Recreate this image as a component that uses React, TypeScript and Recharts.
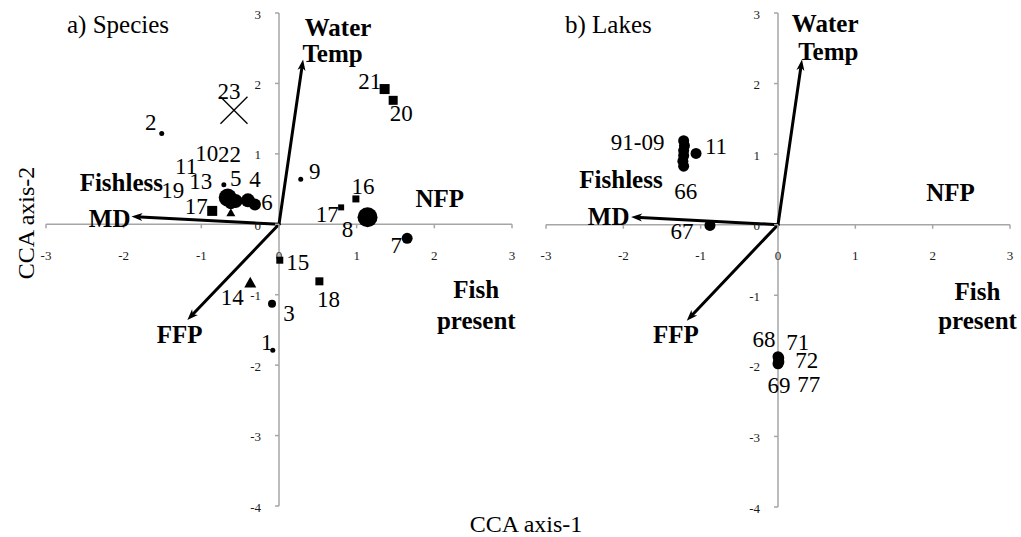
import React from 'react';
import { ScatterChart, Scatter, XAxis, YAxis, ReferenceLine } from 'recharts';

// Axis ticks shared by both ordination panels
const xTicks = [-3, -2, -1, 0, 1, 2, 3];
const yTicks = [-4, -3, -2, -1, 0, 1, 2, 3];

// a) species scores on CCA axis-1 / axis-2
const speciesLabels = ['1', '2', '3', '4', '5', '6', '7', '8', '9', '10', '11', '13', '14', '15', '16', '17', '17', '18', '19', '20', '21', '22', '23'];
const speciesAxis1 = [-0.08, -1.51, -0.09, -0.40, -0.71, -0.31, 1.65, 1.14, 0.28, -0.66, -0.72, -0.62, -0.37, 0.01, 0.99, -0.86, 0.80, 0.52, -0.62, 1.47, 1.36, -0.56, -0.58];
const speciesAxis2 = [-1.79, 1.29, -1.13, 0.34, 0.56, 0.28, -0.20, 0.10, 0.64, 0.38, 0.40, 0.30, -0.82, -0.51, 0.36, 0.19, 0.24, -0.81, 0.17, 1.76, 1.92, 0.33, 1.62];

// b) lake-year scores
const lakeLabels = ['91-09', '', '', '', '', '66', '11', '67', '68', '71', '72', '69', '77'];
const lakeAxis1 = [-1.22, -1.21, -1.22, -1.22, -1.23, -1.22, -1.06, -0.88, 0.0, 0.01, 0.01, 0.0, 0.01];
const lakeAxis2 = [1.19, 1.12, 1.05, 0.98, 0.90, 0.83, 1.01, -0.01, -1.87, -1.89, -1.93, -1.97, -1.95];

// Environmental vectors (biplot arrows)
const vectorNames = ['Water Temp', 'MD', 'FFP'];
const vectorAxis1 = [0.31, -1.90, -1.18];
const vectorAxis2 = [2.34, 0.11, -1.36];

// Environmental variable labels and centroids (text centres)
const envNames = ['Water', 'Temp', 'Fishless', 'MD', 'NFP', 'FFP', 'Fish', 'present'];
const envAxis1A = [0.76, 0.69, -2.03, -2.18, 2.07, -1.28, 2.54, 2.54];
const envAxis2A = [2.80, 2.42, 0.60, 0.08, 0.36, -1.56, -0.92, -1.37];
const envAxis1B = [0.61, 0.65, -2.03, -2.19, 2.23, -1.32, 2.58, 2.58];
const envAxis2B = [2.85, 2.46, 0.64, 0.12, 0.46, -1.56, -0.94, -1.36];

// Marker look and label placement for each species
const speciesMarks = [
  { shape: 'dot', size: 2.5, dx: -6, dy: -8 },
  { shape: 'dot', size: 2.5, dx: -11, dy: -11 },
  { shape: 'dot', size: 4, dx: 17, dy: 10 },
  { shape: 'dot', size: 7, dx: 7, dy: -21 },
  { shape: 'dot', size: 2.5, dx: 12, dy: -6 },
  { shape: 'dot', size: 6, dx: 12, dy: -2 },
  { shape: 'dot', size: 5.5, dx: -11, dy: 7 },
  { shape: 'dot', size: 10, dx: -20, dy: 12 },
  { shape: 'dot', size: 2.5, dx: 14, dy: -8 },
  { shape: 'dot', size: 9, dx: -21, dy: -44 },
  { shape: 'x', size: 6, dx: -37, dy: -30 },
  { shape: 'dot', size: 6, dx: -30, dy: -22 },
  { shape: 'triangle', size: 12, dx: -18, dy: 15 },
  { shape: 'square', size: 7, dx: 18, dy: 2 },
  { shape: 'square', size: 7, dx: 7, dy: -12 },
  { shape: 'square', size: 10, dx: -16, dy: -4 },
  { shape: 'square', size: 6, dx: -14, dy: 7 },
  { shape: 'square', size: 8, dx: 9, dy: 18 },
  { shape: 'triangle', size: 9, dx: -58, dy: -22 },
  { shape: 'square', size: 9, dx: 8, dy: 13 },
  { shape: 'square', size: 10, dx: -15, dy: -8 },
  { shape: 'dot', size: 7, dx: -6, dy: -47 },
  { shape: 'x', size: 27, dx: -5, dy: -19 },
];

const lakeMarks = [
  { dx: -46, dy: 2 },
  { dx: 0, dy: 0 },
  { dx: 0, dy: 0 },
  { dx: 0, dy: 0 },
  { dx: 0, dy: 0 },
  { dx: 2, dy: 25 },
  { dx: 20, dy: -7 },
  { dx: -28, dy: 6 },
  { dx: -14, dy: -17 },
  { dx: 19, dy: -16 },
  { dx: 28, dy: 0 },
  { dx: 1, dy: 22 },
  { dx: 30, dy: 22 },
];

const FONT = "'Liberation Serif', 'Times New Roman', serif";
const AXIS_GREY = '#a6a6a6';

const speciesData = speciesLabels.map((label, i) => ({ x: speciesAxis1[i], y: speciesAxis2[i], label, i }));
const lakeData = lakeLabels.map((label, i) => ({ x: lakeAxis1[i], y: lakeAxis2[i], label, i }));
const vectorData = vectorNames.map((name, i) => ({ name, x: vectorAxis1[i], y: vectorAxis2[i] }));
const envDataA = envNames.map((name, i) => ({ name, x: envAxis1A[i], y: envAxis2A[i] }));
const envDataB = envNames.map((name, i) => ({ name, x: envAxis1B[i], y: envAxis2B[i] }));
const xTickData = xTicks.map((t) => ({ x: t, y: 0, t }));
const yTickData = yTicks.map((t) => ({ x: 0, y: t, t }));

function Marker({ shape, size, cx, cy }: { shape: string; size: number; cx: number; cy: number }) {
  if (shape === 'square') {
    return <rect x={cx - size / 2} y={cy - size / 2} width={size} height={size} fill="#000" />;
  }
  if (shape === 'triangle') {
    const h = size * 0.9;
    return (
      <polygon
        points={`${cx},${cy - h / 2} ${cx + size / 2},${cy + h / 2} ${cx - size / 2},${cy + h / 2}`}
        fill="#000"
      />
    );
  }
  if (shape === 'x') {
    const r = size / 2;
    return (
      <g stroke="#000" strokeWidth={1.3}>
        <line x1={cx - r} y1={cy - r} x2={cx + r} y2={cy + r} />
        <line x1={cx - r} y1={cy + r} x2={cx + r} y2={cy - r} />
      </g>
    );
  }
  return <circle cx={cx} cy={cy} r={size} fill="#000" />;
}

const pointLabelStyle = { fontFamily: FONT, fontSize: 23, fill: '#000' } as const;

function SpeciesPoint(props: any) {
  const { cx, cy, payload } = props;
  const m = speciesMarks[payload.i];
  return <Marker shape={m.shape} size={m.size} cx={cx} cy={cy} />;
}

function SpeciesLabel(props: any) {
  const { cx, cy, payload } = props;
  const m = speciesMarks[payload.i];
  return (
    <text x={cx + m.dx} y={cy + m.dy} textAnchor="middle" dominantBaseline="central" {...pointLabelStyle}>
      {payload.label}
    </text>
  );
}

function LakePoint(props: any) {
  const { cx, cy } = props;
  return <circle cx={cx} cy={cy} r={5.5} fill="#000" />;
}

function LakeLabel(props: any) {
  const { cx, cy, payload } = props;
  const m = lakeMarks[payload.i];
  if (!payload.label) return <g />;
  return (
    <text x={cx + m.dx} y={cy + m.dy} textAnchor="middle" dominantBaseline="central" {...pointLabelStyle}>
      {payload.label}
    </text>
  );
}

function EnvLabel(props: any) {
  const { cx, cy, payload } = props;
  return (
    <text
      x={cx}
      y={cy}
      textAnchor="middle"
      dominantBaseline="central"
      fontFamily={FONT}
      fontSize={25}
      fontWeight="bold"
      fill="#000"
    >
      {payload.name}
    </text>
  );
}

function XTick(props: any) {
  const { cx, cy, payload } = props;
  return (
    <g>
      <line x1={cx} y1={cy} x2={cx} y2={cy + 4} stroke={AXIS_GREY} strokeWidth={1.5} />
      <text x={cx} y={cy + 31} textAnchor="middle" dominantBaseline="central" fontFamily={FONT} fontSize={13} fill="#1a1a1a">
        {String(payload.t)}
      </text>
    </g>
  );
}

function YTick(props: any) {
  const { cx, cy, payload } = props;
  return (
    <g>
      <line x1={cx - 4} y1={cy} x2={cx} y2={cy} stroke={AXIS_GREY} strokeWidth={1.5} />
      <text x={cx - 18} y={cy + 1} textAnchor="end" dominantBaseline="central" fontFamily={FONT} fontSize={13} fill="#1a1a1a">
        {String(payload.t)}
      </text>
    </g>
  );
}

function ArrowLine(props: any) {
  const { x1, y1, x2, y2 } = props;
  const dx = x2 - x1;
  const dy = y2 - y1;
  const len = Math.sqrt(dx * dx + dy * dy) || 1;
  const ux = dx / len;
  const uy = dy / len;
  const head = 11;
  const half = 4;
  const bx = x2 - ux * head;
  const by = y2 - uy * head;
  const lx = x2 - ux * (head - 2);
  const ly = y2 - uy * (head - 2);
  return (
    <g>
      <line x1={x1} y1={y1} x2={lx} y2={ly} stroke="#000" strokeWidth={3} strokeLinecap="round" />
      <polygon
        points={`${x2},${y2} ${bx - uy * half},${by + ux * half} ${bx + ux * 3},${by + uy * 3} ${bx + uy * half},${by - ux * half}`}
        fill="#000"
      />
    </g>
  );
}

function Panel({
  width,
  margin,
  points,
  envLabels,
  kind,
}: {
  width: number;
  margin: { top: number; right: number; bottom: number; left: number };
  points: any[];
  envLabels: any[];
  kind: 'species' | 'lakes';
}) {
  return (
    <ScatterChart width={width} height={537} margin={margin} style={{ overflow: 'visible' }}>
      <XAxis type="number" dataKey="x" domain={[-3, 3]} ticks={xTicks} hide />
      <YAxis type="number" dataKey="y" domain={[-4, 3]} ticks={yTicks} hide />
      <ReferenceLine y={0} stroke={AXIS_GREY} strokeWidth={1.5} />
      <ReferenceLine x={0} stroke={AXIS_GREY} strokeWidth={1.5} />
      <Scatter data={xTickData} shape={XTick} isAnimationActive={false} />
      <Scatter data={yTickData} shape={YTick} isAnimationActive={false} />
      {vectorData.map((v) => (
        <ReferenceLine
          key={v.name}
          segment={[
            { x: 0, y: 0 },
            { x: v.x, y: v.y },
          ]}
          shape={ArrowLine}
        />
      ))}
      <Scatter data={envLabels} shape={EnvLabel} isAnimationActive={false} />
      {kind === 'species' ? (
        <Scatter data={points} shape={SpeciesPoint} isAnimationActive={false} />
      ) : (
        <Scatter data={points} shape={LakePoint} isAnimationActive={false} />
      )}
      {kind === 'species' ? (
        <Scatter data={points} shape={SpeciesLabel} isAnimationActive={false} />
      ) : (
        <Scatter data={points} shape={LakeLabel} isAnimationActive={false} />
      )}
    </ScatterChart>
  );
}

export default function App() {
  return (
    <div style={{ position: 'absolute', left: 0, top: 0, width: 1021, height: 537, background: '#fff', overflow: 'hidden' }}>
      <div style={{ position: 'absolute', left: 0, top: 0 }}>
        <Panel
          width={520}
          margin={{ top: 13, right: 8, bottom: 31, left: 46 }}
          points={speciesData}
          envLabels={envDataA}
          kind="species"
        />
      </div>
      <div style={{ position: 'absolute', left: 520, top: 0 }}>
        <Panel
          width={501}
          margin={{ top: 13, right: 11, bottom: 30, left: 26 }}
          points={lakeData}
          envLabels={envDataB}
          kind="lakes"
        />
      </div>
      <svg width={1021} height={537} style={{ position: 'absolute', left: 0, top: 0, pointerEvents: 'none' }}>
        <text x={67} y={33} fontFamily={FONT} fontSize={25} fill="#000">
          a) Species
        </text>
        <text x={565} y={33} fontFamily={FONT} fontSize={25} fill="#000">
          b) Lakes
        </text>
        <text x={526} y={532} textAnchor="middle" fontFamily={FONT} fontSize={24} fill="#000">
          CCA axis-1
        </text>
        <text
          x={0}
          y={0}
          transform="translate(34, 223) rotate(-90)"
          textAnchor="middle"
          fontFamily={FONT}
          fontSize={24}
          fill="#000"
        >
          CCA axis-2
        </text>
      </svg>
    </div>
  );
}
